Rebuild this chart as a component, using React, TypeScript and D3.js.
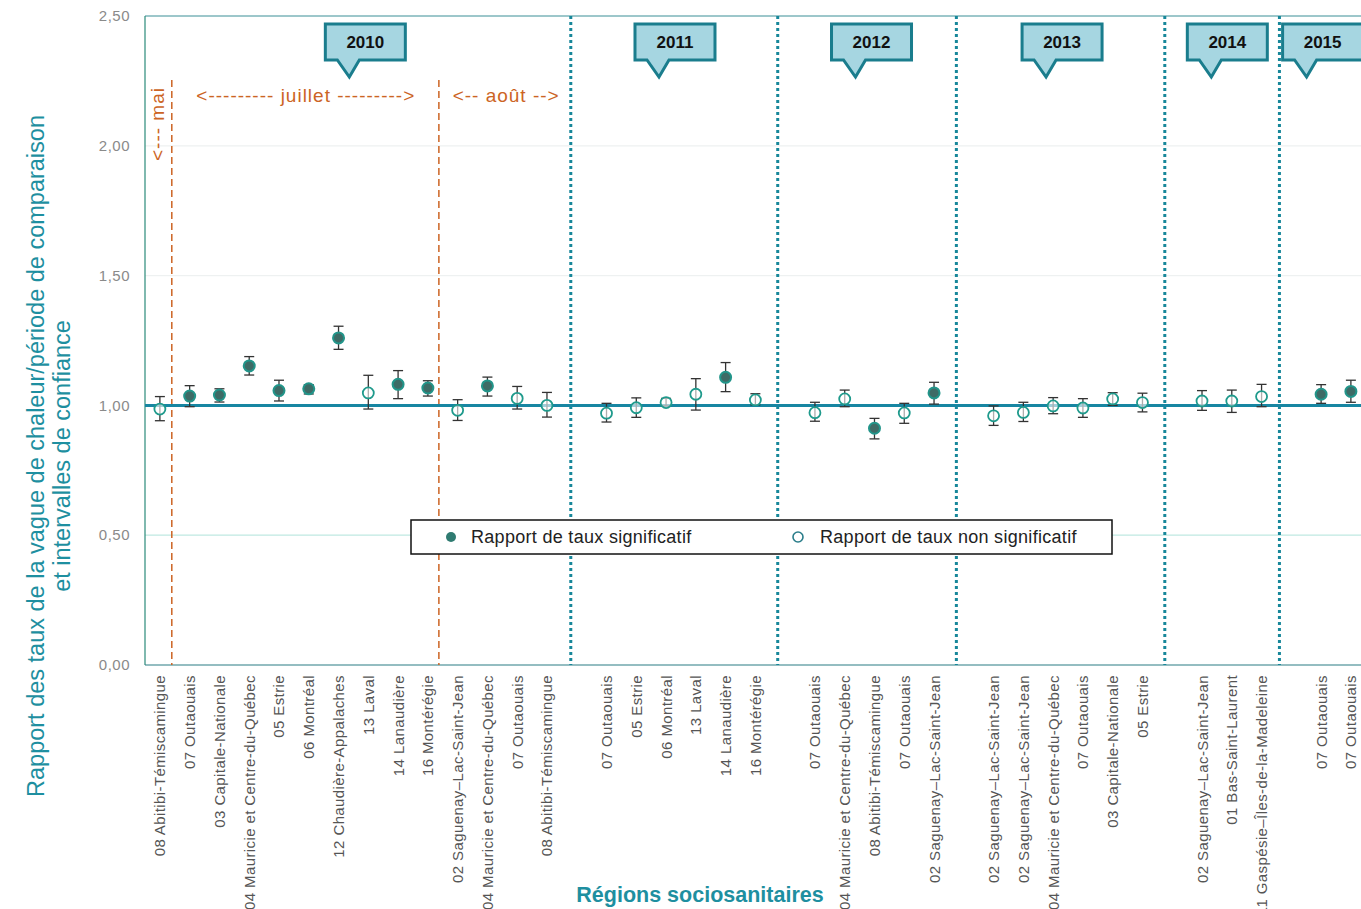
import * as d3 from "d3";

// one slot per category, "" marks the empty gap between years
const categories = [
  "08 Abitibi-Témiscamingue", "07 Outaouais", "03 Capitale-Nationale",
  "04 Mauricie et Centre-du-Québec", "05 Estrie", "06 Montréal",
  "12 Chaudière-Appalaches", "13 Laval", "14 Lanaudière", "16 Montérégie",
  "02 Saguenay–Lac-Saint-Jean", "04 Mauricie et Centre-du-Québec", "07 Outaouais",
  "08 Abitibi-Témiscamingue", "",
  "07 Outaouais", "05 Estrie", "06 Montréal", "13 Laval", "14 Lanaudière", "16 Montérégie", "",
  "07 Outaouais", "04 Mauricie et Centre-du-Québec", "08 Abitibi-Témiscamingue",
  "07 Outaouais", "02 Saguenay–Lac-Saint-Jean", "",
  "02 Saguenay–Lac-Saint-Jean", "02 Saguenay–Lac-Saint-Jean",
  "04 Mauricie et Centre-du-Québec", "07 Outaouais", "03 Capitale-Nationale", "05 Estrie", "",
  "02 Saguenay–Lac-Saint-Jean", "01 Bas-Saint-Laurent", "11 Gaspésie–Îles-de-la-Madeleine", "",
  "07 Outaouais", "07 Outaouais",
];

const rates = [
  0.986, 1.036, 1.040, 1.152, 1.057, 1.064, 1.260, 1.048, 1.081, 1.067, 0.981, 1.075, 1.027, 1.000, null,
  0.970, 0.991, 1.011, 1.043, 1.108, 1.021, null,
  0.972, 1.025, 0.912, 0.971, 1.048, null,
  0.960, 0.973, 0.998, 0.990, 1.025, 1.011, null,
  1.017, 1.017, 1.034, null,
  1.043, 1.054,
];
const lower = [
  0.941, 0.995, 1.013, 1.117, 1.017, 1.044, 1.216, 0.986, 1.026, 1.036, 0.942, 1.036, 0.986, 0.955, null,
  0.936, 0.954, 0.998, 0.982, 1.053, 1.002, null,
  0.939, 0.995, 0.871, 0.931, 1.005, null,
  0.923, 0.938, 0.968, 0.954, 1.000, 0.975, null,
  0.981, 0.973, 0.995, null,
  1.008, 1.012,
];
const upper = [
  1.034, 1.076, 1.064, 1.188, 1.097, 1.080, 1.305, 1.116, 1.134, 1.095, 1.022, 1.109, 1.073, 1.050, null,
  1.008, 1.029, 1.027, 1.103, 1.165, 1.045, null,
  1.012, 1.059, 0.950, 1.008, 1.089, null,
  0.998, 1.012, 1.030, 1.026, 1.049, 1.047, null,
  1.057, 1.059, 1.081, null,
  1.080, 1.097,
];
const significant = [
  false, true, true, true, true, true, true, false, true, true, false, true, false, false, false,
  false, false, false, false, true, false, false,
  false, false, true, false, true, false,
  false, false, false, false, false, false, false,
  false, false, false, false,
  true, true,
];

const yTicks = [0, 0.5, 1, 1.5, 2, 2.5];
// positions in slot units
const yearLabels = [
  { year: "2010", at: 7.4 },
  { year: "2011", at: 17.8 },
  { year: "2012", at: 24.4 },
  { year: "2013", at: 30.8 },
  { year: "2014", at: 36.35 },
  { year: "2015", at: 39.55 },
];
const yearDividers = [14.3, 21.25, 27.25, 34.25, 38.1];
const monthDividers = [0.9, 9.87];

const TEAL = "#1e8fa0";
const ORANGE = "#cc6424";

export default function App() {
  const width = 1361;
  const height = 909;
  const left = 145;
  const top = 16;
  const bottom = 665;
  const step = 29.775;

  const x = d3.scaleLinear().domain([0, categories.length]).range([left, left + categories.length * step]);
  const y = d3.scaleLinear().domain([0, 2.5]).range([bottom, top]);
  const fmt = (v: number) => d3.format(".2f")(v).replace(".", ",");

  const points = categories
    .map((c, i) => ({ i, c, r: rates[i], lo: lower[i], hi: upper[i], sig: significant[i] }))
    .filter((d) => d.r != null);

  const right = width;

  return (
    <div style={{ position: "absolute", left: 0, top: 0 }}>
      <svg width={width} height={height} style={{ display: "block", background: "#fff" }}
        fontFamily="'Liberation Sans', Arial, sans-serif">
        {/* grid */}
        {yTicks.filter((t) => t !== 0 && t !== 1 && t !== 2.5).map((t) => (
          <line key={t} x1={left} x2={right} y1={y(t)} y2={y(t)}
            stroke={t === 0.5 ? "#bfe9e2" : "#eef1f1"} strokeWidth={1.2} />
        ))}
        {/* frame */}
        <line x1={left} x2={right} y1={top} y2={top} stroke="#3a8f96" strokeWidth={1} />
        <line x1={left} x2={left} y1={top} y2={bottom} stroke="#2a8a7a" strokeWidth={1.2} />
        <line x1={left} x2={right} y1={bottom} y2={bottom} stroke="#2b7c84" strokeWidth={1.2} />

        {/* y tick labels */}
        {yTicks.map((t) => (
          <text key={t} x={130} y={y(t)} dy="0.35em" textAnchor="end" fontSize={15} letterSpacing={0.5} fill="#8a8a8a">
            {fmt(t)}
          </text>
        ))}

        {/* year separators */}
        {yearDividers.map((v) => (
          <line key={v} x1={x(v)} x2={x(v)} y1={top} y2={bottom} stroke="#17879a"
            strokeWidth={3} strokeDasharray="3,3" />
        ))}
        {/* month separators */}
        {monthDividers.map((v) => (
          <line key={v} x1={x(v)} x2={x(v)} y1={80} y2={bottom} stroke={ORANGE}
            strokeWidth={1.5} strokeDasharray="7,4" />
        ))}

        {/* month annotations */}
        <text transform={`translate(${x(0.45) + 6},${124}) rotate(-90)`} textAnchor="middle"
          fontSize={19} letterSpacing={1} fill={ORANGE}>{"<--- mai"}</text>
        <text x={x(5.4)} y={102} textAnchor="middle" fontSize={19} letterSpacing={1} fill={ORANGE}>
          {"<--------- juillet --------->"}
        </text>
        <text x={x(12.13)} y={102} textAnchor="middle" fontSize={19} letterSpacing={1} fill={ORANGE}>
          {"<-- août -->"}
        </text>

        {/* reference line at 1 */}
        <line x1={left} x2={right} y1={y(1)} y2={y(1)} stroke="#1786a2" strokeWidth={3} />

        {/* error bars and markers */}
        {points.map((d) => {
          const cx = x(d.i + 0.5);
          return (
            <g key={d.i}>
              <line x1={cx} x2={cx} y1={y(d.lo as number)} y2={y(d.hi as number)} stroke="#333" strokeWidth={1.3} />
              <line x1={cx - 5} x2={cx + 5} y1={y(d.hi as number)} y2={y(d.hi as number)} stroke="#333" strokeWidth={1.3} />
              <line x1={cx - 5} x2={cx + 5} y1={y(d.lo as number)} y2={y(d.lo as number)} stroke="#333" strokeWidth={1.3} />
              {d.sig ? (
                <circle cx={cx} cy={y(d.r as number)} r={5.5} fill="#3e6b66" stroke="#22958a" strokeWidth={2} />
              ) : (
                <circle cx={cx} cy={y(d.r as number)} r={5.5} fill="#fff" fillOpacity={0.6} stroke="#1f9a8c" strokeWidth={1.8} />
              )}
            </g>
          );
        })}

        {/* year callouts */}
        {yearLabels.map((yl) => {
          const bw = 80;
          const l = x(yl.at) - bw / 2;
          const t = 24;
          const b = 60;
          const path = `M${l},${t}H${l + bw}V${b}H${l + 34}L${l + 24},77L${l + 12},${b}H${l}Z`;
          return (
            <g key={yl.year}>
              <path d={path} fill="#a6d6e1" stroke="#1a7d8d" strokeWidth={3} strokeLinejoin="miter" />
              <text x={l + bw / 2} y={48} textAnchor="middle" fontSize={17} fontWeight="bold" fill="#111">
                {yl.year}
              </text>
            </g>
          );
        })}

        {/* legend */}
        <rect x={411} y={520} width={701} height={34} fill="#fff" stroke="#111" strokeWidth={1.5} />
        <circle cx={451} cy={537} r={5} fill="#2f7b71" />
        <text x={471} y={537} dy="0.35em" fontSize={18} letterSpacing={0.3} fill="#222">Rapport de taux significatif</text>
        <circle cx={798} cy={537} r={5} fill="#fff" stroke="#2a7d8a" strokeWidth={1.6} />
        <text x={820} y={537} dy="0.35em" fontSize={18} letterSpacing={0.3} fill="#222">Rapport de taux non significatif</text>

        {/* category labels */}
        {categories.map((c, i) => c && (
          <text key={i} transform={`translate(${x(i + 0.5) + 5.5},${675}) rotate(-90)`} textAnchor="end"
            fontSize={15} letterSpacing={0.4} fill="#555">
            {c}
          </text>
        ))}

        {/* axis titles */}
        <text transform={`translate(44,456) rotate(-90)`} textAnchor="middle" fontSize={23.5} fill={TEAL}>
          Rapport des taux de la vague de chaleur/période de comparaison
        </text>
        <text transform={`translate(70,456) rotate(-90)`} textAnchor="middle" fontSize={23.5} fill={TEAL}>
          et intervalles de confiance
        </text>
        <text x={700} y={902} textAnchor="middle" fontSize={21.5} fontWeight="bold" fill={TEAL}>
          Régions sociosanitaires
        </text>
      </svg>
    </div>
  );
}
